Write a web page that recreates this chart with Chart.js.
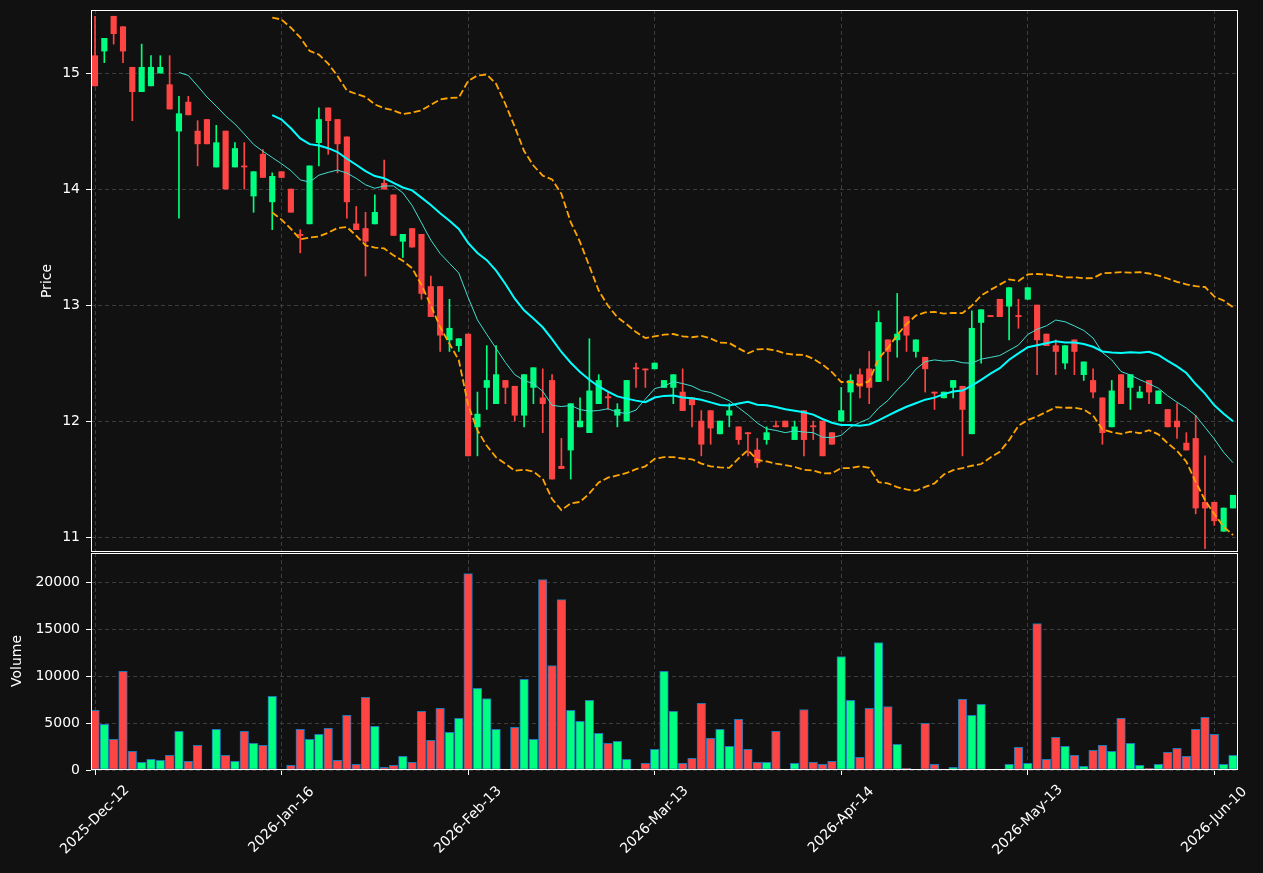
<!DOCTYPE html>
<html>
<head>
<meta charset="utf-8">
<title>Price and volume</title>
<script src="https://cdn.jsdelivr.net/npm/chart.js@4.4.1/dist/chart.umd.min.js"></script>
<style>
  html, body { margin: 0; padding: 0; background: #111111; }
  #wrap { position: relative; width: 1263px; height: 873px; }
  #wrap canvas { position: absolute; left: 0; top: 0; }
</style>
</head>
<body>
<div id="wrap">
  <canvas id="price-chart" width="1263" height="873"></canvas>
  <canvas id="volume-chart" width="1263" height="873"></canvas>
</div>
<script>
// ---------- data ----------
const tickIndex = [0, 20, 40, 60, 80, 100, 120];
const tickLabels = ["2025-Dec-12", "2026-Jan-16", "2026-Feb-13", "2026-Mar-13",
  "2026-Apr-14", "2026-May-13", "2026-Jun-10"];
const priceTicks = [11, 12, 13, 14, 15];
const volumeTicks = [0, 5000, 10000, 15000, 20000];

const opens = [
  15.15, 15.19, 15.49, 15.40, 15.05, 14.84, 14.89, 15.00, 14.90, 14.50,
  14.75, 14.50, 14.60, 14.19, 14.50, 14.19, 14.20, 13.94, 14.30, 13.89,
  14.15, 14.00, 13.61, 13.70, 14.40, 14.70, 14.60, 14.45, 13.70, 13.66,
  13.70, 14.05, 13.95, 13.55, 13.66, 13.61, 13.16, 13.16, 12.70, 12.65,
  12.75, 11.95, 12.29, 12.15, 12.35, 12.30, 12.05, 12.29, 12.20, 12.35,
  11.61, 11.75, 11.95, 11.90, 12.15, 12.21, 12.05, 12.00, 12.46, 12.45,
  12.45, 12.29, 12.29, 12.25, 12.20, 12.00, 12.09, 11.89, 12.05, 11.95,
  11.90, 11.75, 11.84, 11.96, 12.00, 11.84, 12.09, 11.96, 12.00, 11.90,
  12.00, 12.25, 12.40, 12.45, 12.34, 12.70, 12.70, 12.90, 12.60, 12.55,
  12.25, 12.20, 12.29, 12.30, 11.89, 12.85, 12.91, 13.05, 12.99, 12.91,
  13.05, 13.00, 12.75, 12.65, 12.50, 12.70, 12.40, 12.35, 12.20, 11.95,
  12.40, 12.29, 12.20, 12.35, 12.15, 12.10, 12.00, 11.81, 11.85, 11.30,
  11.30, 11.05, 11.25
];
const highs = [
  15.49, 15.30, 15.49, 15.40, 15.05, 15.25, 15.15, 15.15, 15.15, 14.80,
  14.80, 14.59, 14.60, 14.55, 14.50, 14.40, 14.40, 14.15, 14.34, 14.14,
  14.15, 14.00, 13.65, 14.20, 14.70, 14.70, 14.60, 14.45, 13.85, 13.80,
  13.95, 14.25, 13.95, 13.61, 13.66, 13.61, 13.25, 13.16, 13.05, 12.71,
  12.75, 12.25, 12.65, 12.65, 12.35, 12.30, 12.40, 12.46, 12.45, 12.40,
  11.85, 12.15, 12.20, 12.71, 12.40, 12.25, 12.15, 12.35, 12.50, 12.45,
  12.50, 12.35, 12.40, 12.45, 12.20, 12.09, 12.09, 12.00, 12.15, 11.95,
  11.90, 11.85, 11.95, 12.00, 12.00, 12.00, 12.09, 12.00, 12.00, 11.90,
  12.29, 12.40, 12.45, 12.60, 12.95, 12.70, 13.10, 12.90, 12.70, 12.55,
  12.25, 12.25, 12.35, 12.30, 12.95, 12.96, 12.91, 13.05, 13.15, 13.05,
  13.15, 13.00, 12.75, 12.70, 12.65, 12.70, 12.51, 12.45, 12.20, 12.35,
  12.40, 12.40, 12.30, 12.35, 12.26, 12.10, 12.15, 11.90, 12.05, 11.70,
  11.30, 11.25, 11.36
];
const lows = [
  14.89, 15.09, 15.25, 15.09, 14.59, 14.84, 14.89, 15.00, 14.69, 13.75,
  14.64, 14.20, 14.39, 14.19, 14.00, 14.19, 14.00, 13.80, 14.10, 13.65,
  14.10, 13.80, 13.45, 13.70, 14.20, 14.30, 14.14, 13.75, 13.65, 13.25,
  13.70, 14.00, 13.60, 13.41, 13.50, 13.05, 12.90, 12.60, 12.60, 12.60,
  11.70, 11.70, 12.10, 12.15, 12.15, 12.00, 11.95, 12.15, 11.90, 11.50,
  11.59, 11.50, 11.95, 11.90, 12.15, 12.10, 11.95, 12.00, 12.29, 12.29,
  12.45, 12.29, 12.15, 12.09, 11.95, 11.70, 11.80, 11.89, 11.95, 11.80,
  11.70, 11.60, 11.80, 11.95, 11.95, 11.84, 11.70, 11.84, 11.70, 11.80,
  12.00, 12.00, 12.20, 12.15, 12.34, 12.35, 12.55, 12.60, 12.55, 12.25,
  12.10, 12.20, 12.20, 11.70, 11.89, 12.50, 12.90, 12.90, 12.70, 12.80,
  13.05, 12.40, 12.65, 12.40, 12.45, 12.40, 12.35, 12.20, 11.80, 11.95,
  12.15, 12.10, 12.20, 12.15, 12.15, 11.95, 11.85, 11.75, 11.20, 10.90,
  11.10, 11.05, 11.25
];
const closes = [
  14.89, 15.30, 15.34, 15.19, 14.84, 15.05, 15.05, 15.05, 14.69, 14.65,
  14.64, 14.39, 14.39, 14.40, 14.00, 14.35, 14.19, 14.15, 14.10, 14.11,
  14.10, 13.80, 13.60, 14.20, 14.60, 14.59, 14.39, 13.89, 13.65, 13.55,
  13.80, 14.00, 13.60, 13.61, 13.50, 13.10, 12.90, 12.74, 12.80, 12.71,
  11.70, 12.06, 12.35, 12.40, 12.29, 12.05, 12.40, 12.46, 12.15, 11.50,
  11.59, 12.15, 12.00, 12.26, 12.35, 12.20, 12.10, 12.35, 12.45, 12.44,
  12.50, 12.35, 12.40, 12.09, 12.14, 11.80, 11.94, 12.00, 12.09, 11.84,
  11.89, 11.64, 11.90, 11.95, 11.95, 11.95, 11.84, 11.95, 11.70, 11.80,
  12.09, 12.35, 12.30, 12.29, 12.85, 12.60, 12.75, 12.74, 12.70, 12.45,
  12.24, 12.25, 12.35, 12.10, 12.80, 12.96, 12.90, 12.90, 13.15, 12.90,
  13.15, 12.70, 12.65, 12.60, 12.65, 12.60, 12.51, 12.25, 11.90, 12.26,
  12.15, 12.40, 12.25, 12.25, 12.26, 11.95, 11.95, 11.75, 11.25, 11.25,
  11.14, 11.25, 11.36
];
const volumes = [
  6350, 4860, 3260, 10500, 1990, 820, 1140, 1030, 1560, 4110,
  920, 2620, 70, 4330, 1560, 920, 4110, 2840, 2620, 7840,
  70, 500, 4330, 3260, 3790, 4430, 1030, 5820, 600, 7730,
  4650, 280, 500, 1450, 820, 6240, 3160, 6560, 4010, 5500,
  20920, 8690, 7620, 4330, 70, 4540, 9650, 3260, 20280, 11130,
  18160, 6350, 5180, 7410, 3900, 2840, 3050, 1140, 70, 710,
  2200, 10500, 6240, 710, 1240, 7090, 3370, 4330, 2520, 5390,
  2200, 820, 820, 4110, 70, 710, 6450, 820, 600, 920,
  12090, 7410, 1350, 6560, 13580, 6770, 2730, 180, 70, 4960,
  600, 40, 280, 7520, 5820, 6990, 30, 30, 600, 2410,
  710, 15600, 1140, 3480, 2520, 1560, 390, 2090, 2620, 1990,
  5500, 2840, 500, 180, 600, 1880, 2310, 1450, 4330, 5600,
  3790, 600, 1560
];

// ---------- look ----------
const UP = "#00ff80";
const DOWN = "#ff4444";
const GRID = "#3d3d3d";
const FONT = { family: "DejaVu Sans", size: 14 };
const X_MIN = -0.43;
const X_MAX = 122.43;

Chart.defaults.color = "#ffffff";
Chart.defaults.font.family = FONT.family;
Chart.defaults.font.size = FONT.size;

// ---------- indicators, derived from the closes ----------
function rollingMean(values, n) {
  return values.map(function (_, i) {
    if (i < n - 1) return null;
    let s = 0;
    for (let k = i - n + 1; k <= i; k++) s += values[k];
    return s / n;
  });
}

function rollingStd(values, n) {
  const mean = rollingMean(values, n);
  return values.map(function (_, i) {
    if (i < n - 1) return null;
    let s = 0;
    for (let k = i - n + 1; k <= i; k++) s += (values[k] - mean[i]) ** 2;
    return Math.sqrt(s / n);
  });
}

function toPoints(series) {
  const pts = [];
  series.forEach(function (v, i) {
    if (v !== null) pts.push({ x: i, y: v });
  });
  return pts;
}

const sma10 = rollingMean(closes, 10);
const sma20 = rollingMean(closes, 20);
const std20 = rollingStd(closes, 20);
const bbUpper = sma20.map((m, i) => (m === null ? null : m + 2 * std20[i]));
const bbLower = sma20.map((m, i) => (m === null ? null : m - 2 * std20[i]));

const candleColors = closes.map((c, i) => (c >= opens[i] ? UP : DOWN));

// ---------- shared helpers ----------
const framePlugin = {
  id: "frame",
  afterDraw(chart) {
    const { ctx, chartArea: a } = chart;
    ctx.save();
    ctx.strokeStyle = "#ffffff";
    ctx.lineWidth = 1;
    ctx.strokeRect(a.left + 0.5, a.top + 0.5, a.right - a.left, a.bottom - a.top - 1);
    ctx.restore();
  },
};

function yTitle(text, x, y) {
  return {
    id: "ytitle-" + text,
    afterDraw(chart) {
      const ctx = chart.ctx;
      ctx.save();
      ctx.translate(x, y);
      ctx.rotate(-Math.PI / 2);
      ctx.fillStyle = "#ffffff";
      ctx.font = FONT.size + "px " + FONT.family;
      ctx.textAlign = "center";
      ctx.textBaseline = "middle";
      ctx.fillText(text, 0, 0);
      ctx.restore();
    },
  };
}

// rotated date labels, centred on each tick like matplotlib's default
const dateLabelPlugin = {
  id: "dates",
  afterDraw(chart) {
    const ctx = chart.ctx;
    const xs = chart.scales.x;
    ctx.save();
    ctx.fillStyle = "#ffffff";
    ctx.font = FONT.size + "px " + FONT.family;
    ctx.textAlign = "center";
    ctx.textBaseline = "middle";
    tickIndex.forEach(function (idx, k) {
      ctx.save();
      ctx.translate(xs.getPixelForValue(idx), 820);
      ctx.rotate(-Math.PI / 4);
      ctx.fillText(tickLabels[k], 0, 0);
      ctx.restore();
    });
    ctx.restore();
  },
};

function xScale(showTicks) {
  return {
    type: "linear",
    min: X_MIN,
    max: X_MAX,
    offset: false,
    afterBuildTicks: (axis) => { axis.ticks = tickIndex.map((v) => ({ value: v })); },
    afterFit: (axis) => {
      axis.height = showTicks ? 103 : 0;
      axis.paddingLeft = 0;
      axis.paddingRight = 0;
    },
    ticks: { display: false },
    grid: {
      color: GRID,
      offset: false,
      drawTicks: showTicks,
      tickLength: 5,
      tickColor: "#ffffff",
    },
    border: { display: false, dash: [4, 3] },
  };
}

function yScale(min, max, values) {
  return {
    min: min,
    max: max,
    afterBuildTicks: (axis) => { axis.ticks = values.map((v) => ({ value: v })); },
    afterFit: (axis) => {
      axis.width = 91;
      // keep the plot box where the layout padding puts it
      axis.paddingTop = 0;
      axis.paddingBottom = 0;
    },
    ticks: {
      color: "#ffffff",
      padding: 6,
      font: FONT,
      callback: (v) => String(v),
    },
    grid: {
      color: GRID,
      tickLength: 5,
      tickColor: "#ffffff",
    },
    border: { display: false, dash: [4, 3] },
  };
}

function lineSet(series, color, width, dash) {
  return {
    type: "line",
    data: toPoints(series),
    borderColor: color,
    borderWidth: width,
    borderDash: dash || [],
    pointRadius: 0,
    tension: 0,
    fill: false,
    order: 0,
  };
}

const baseOptions = {
  responsive: false,
  animation: false,
  devicePixelRatio: 1,
  plugins: { legend: { display: false }, tooltip: { enabled: false } },
};

// ---------- price panel ----------
new Chart(document.getElementById("price-chart"), {
  type: "bar",
  data: {
    datasets: [
      {
        data: closes.map((c, i) => ({ x: i, y: [lows[i], highs[i]] })),
        backgroundColor: candleColors,
        barThickness: 1,
        grouped: false,
        order: 2,
      },
      {
        data: closes.map((c, i) => ({ x: i, y: [opens[i], c] })),
        backgroundColor: candleColors,
        barThickness: 5.5,
        minBarLength: 1,
        grouped: false,
        order: 1,
      },
      lineSet(sma20, "#00ffff", 2),
      lineSet(sma10, "#40e0d0", 1),
      lineSet(bbUpper, "#ffa500", 1.8, [7, 3]),
      lineSet(bbLower, "#ffa500", 1.8, [7, 3]),
    ],
  },
  options: Object.assign({}, baseOptions, {
    layout: { padding: { left: 0, right: 26, top: 10, bottom: 321 } },
    scales: {
      x: xScale(false),
      y: yScale(10.871, 15.544, priceTicks),
    },
  }),
  plugins: [framePlugin, yTitle("Price", 47, 281)],
});

// ---------- volume panel ----------
new Chart(document.getElementById("volume-chart"), {
  type: "bar",
  data: {
    datasets: [
      {
        data: volumes.map((v, i) => ({ x: i, y: v })),
        backgroundColor: candleColors,
        borderColor: "#1f77b4",
        borderWidth: 1,
        borderSkipped: false,
        barThickness: 8.6,
        grouped: false,
      },
    ],
  },
  options: Object.assign({}, baseOptions, {
    layout: { padding: { left: 0, right: 26, top: 553, bottom: 0 } },
    scales: {
      x: xScale(true),
      y: yScale(0, 23120, volumeTicks),
    },
  }),
  plugins: [framePlugin, yTitle("Volume", 17, 661), dateLabelPlugin],
});
</script>
</body>
</html>
